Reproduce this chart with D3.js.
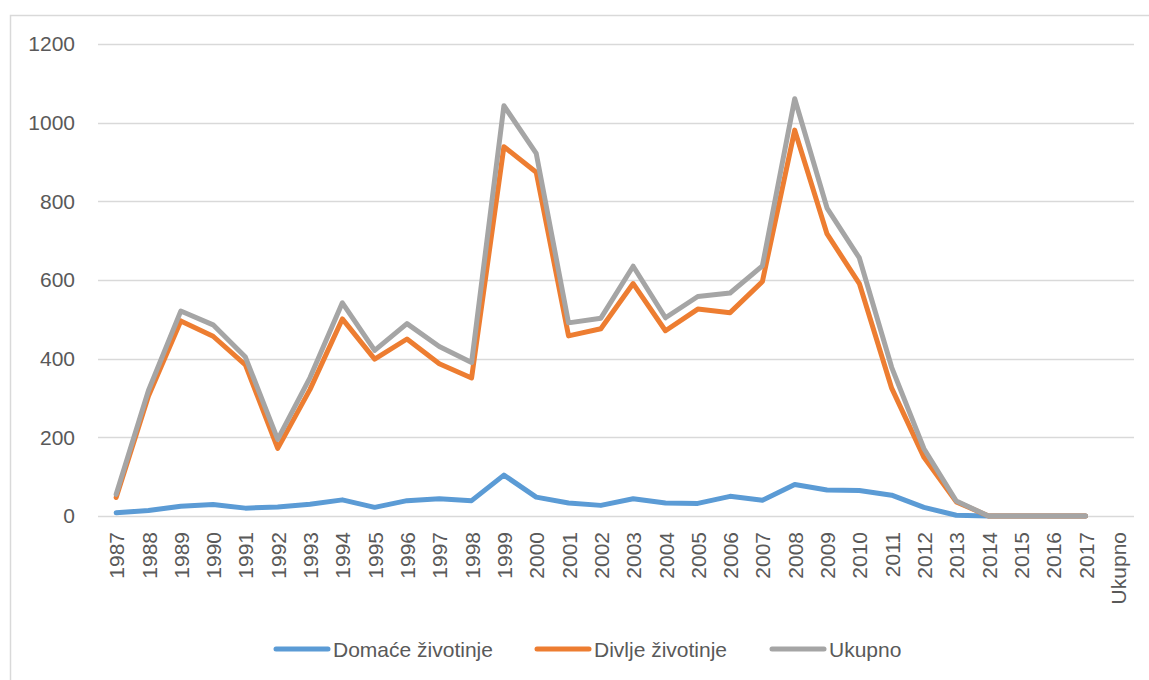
<!DOCTYPE html>
<html>
<head>
<meta charset="utf-8">
<script src="https://cdn.jsdelivr.net/npm/d3@7"></script>
<style>
  html, body { margin: 0; padding: 0; background: #fff; }
  svg { display: block; }
  text { font-family: "Liberation Sans", Arial, sans-serif; fill: #595959; }
</style>
</head>
<body>
<svg id="chart" width="1149" height="680"></svg>
<script>
// ---- data ----
const categories = ["1987","1988","1989","1990","1991","1992","1993","1994","1995","1996",
  "1997","1998","1999","2000","2001","2002","2003","2004","2005","2006","2007","2008",
  "2009","2010","2011","2012","2013","2014","2015","2016","2017","Ukupno"];
const domace = [8,14,25,29,20,23,30,41,22,39,44,39,104,48,33,27,44,33,32,50,40,80,66,65,53,22,2,0,0,0,0,null];
const divlje = [47,305,496,457,384,172,322,501,399,450,387,351,939,874,458,476,591,471,526,517,596,981,717,591,325,149,36,0,0,0,0,null];
const ukupno = [55,319,521,486,404,195,352,542,421,489,431,390,1043,922,491,503,635,504,558,567,636,1061,783,656,378,171,38,0,0,0,0,null];
const seriesNames = ["Domaće životinje","Divlje životinje","Ukupno"];
const yTicks = [0,200,400,600,800,1000,1200];

const colors = ["#5B9BD5","#ED7D31","#A5A5A5"];
const seriesData = [domace, divlje, ukupno];

const svg = d3.select("#chart");

// outer chart border
svg.append("path")
  .attr("d", "M10.5,680 L10.5,15.5 L1149,15.5")
  .attr("fill","none").attr("stroke","#d9d9d9").attr("stroke-width",1.5);

const x = d3.scalePoint().domain(categories).range([100,1134]).padding(0.5);
const y = d3.scaleLinear().domain([0,1200]).range([516,44]);

// gridlines
svg.append("g").selectAll("line").data(yTicks).join("line")
  .attr("x1",98).attr("x2",1134)
  .attr("y1",d=>Math.round(y(d))+0.5).attr("y2",d=>Math.round(y(d))+0.5)
  .attr("stroke","#d9d9d9").attr("stroke-width",1.5);

// y axis labels
const yAxis = d3.axisLeft(y).tickValues(yTicks).tickFormat(d3.format("d")).tickSize(0).tickPadding(0);
const gy = svg.append("g").attr("transform","translate(75,0)").call(yAxis);
gy.select(".domain").remove();
gy.selectAll("text").style("font-size","21px").attr("fill","#595959")
  .style("font-family","'Liberation Sans', Arial, sans-serif");

// x axis labels
const xAxis = d3.axisBottom(x).tickSize(0).tickPadding(0);
const gx = svg.append("g").attr("transform","translate(0,532)").call(xAxis);
gx.select(".domain").remove();
gx.selectAll("text")
  .style("font-size","21px").attr("fill","#595959")
  .style("font-family","'Liberation Sans', Arial, sans-serif")
  .attr("text-anchor","end")
  .attr("y",0).attr("x",0).attr("dy","0.36em")
  .attr("transform","rotate(-90)");

// lines
const line = d3.line()
  .defined(d => d.v !== null)
  .x(d => x(d.c)).y(d => y(d.v));

seriesData.forEach((arr,i)=>{
  const pts = categories.map((c,j)=>({c, v: arr[j]}));
  svg.append("path").datum(pts)
    .attr("d", line)
    .attr("fill","none")
    .attr("stroke", colors[i])
    .attr("stroke-width", 5)
    .attr("stroke-linejoin","round")
    .attr("stroke-linecap","round");
});

// legend
const legendX = [276, 537, 772];
const lg = svg.append("g");
seriesNames.forEach((name,i)=>{
  lg.append("line")
    .attr("x1",legendX[i]).attr("x2",legendX[i]+52)
    .attr("y1",649).attr("y2",649)
    .attr("stroke",colors[i]).attr("stroke-width",5).attr("stroke-linecap","round");
  lg.append("text")
    .attr("x",legendX[i]+57).attr("y",656.5)
    .style("font-size","21px")
    .text(name);
});
</script>
</body>
</html>
